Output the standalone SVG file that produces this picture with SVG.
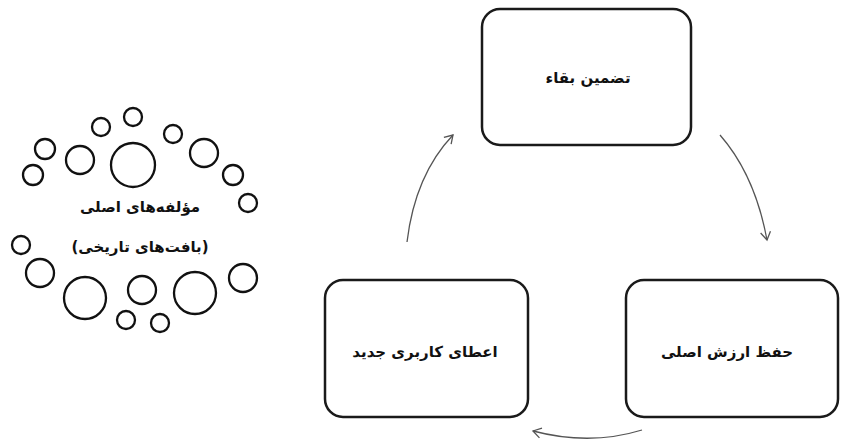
<svg xmlns="http://www.w3.org/2000/svg" width="841" height="441" viewBox="0 0 841 441">
<defs>
<style>
.box{fill:#fff;stroke:#1a1a1a;stroke-width:2.5}
.c{fill:none;stroke:#111;stroke-width:2.3}
.lbl{font-family:"DejaVu Sans","Noto Sans",sans-serif;font-weight:bold;font-size:15px;fill:#111}
.arr{fill:none;stroke:#555;stroke-width:1.3;marker-end:url(#ah)}
</style>
<marker id="ah" markerUnits="userSpaceOnUse" markerWidth="14" markerHeight="14" refX="9" refY="6" orient="auto">
<path d="M1,1 L9,6 L1,11" fill="none" stroke="#555" stroke-width="1.3"/>
</marker>
</defs>
<rect width="841" height="441" fill="#fff"/>
<g id="components">
<circle class="c" cx="133" cy="165" r="22"/>
<circle class="c" cx="80" cy="160" r="14"/>
<circle class="c" cx="45" cy="149" r="10"/>
<circle class="c" cx="33" cy="175" r="10"/>
<circle class="c" cx="101" cy="127" r="9"/>
<circle class="c" cx="133" cy="117" r="9"/>
<circle class="c" cx="173" cy="134" r="9"/>
<circle class="c" cx="204" cy="153" r="14"/>
<circle class="c" cx="233" cy="175" r="10"/>
<circle class="c" cx="248" cy="203" r="9"/>
<circle class="c" cx="21" cy="245" r="9"/>
<circle class="c" cx="40" cy="273" r="14"/>
<circle class="c" cx="85" cy="298" r="21"/>
<circle class="c" cx="126" cy="320" r="9"/>
<circle class="c" cx="142" cy="290" r="14"/>
<circle class="c" cx="160" cy="323" r="9"/>
<circle class="c" cx="195" cy="293" r="21"/>
<circle class="c" cx="243" cy="278" r="14"/>
<text class="lbl" x="140" y="212" text-anchor="middle" direction="rtl">مؤلفه‌های اصلی</text>
<text class="lbl" x="140" y="252" text-anchor="middle" direction="rtl">(بافت‌های تاریخی)</text>
</g>
<g id="node-survival">
<rect class="box" x="482" y="9" width="209" height="136" rx="18"/>
<text class="lbl" x="588" y="83" text-anchor="middle" direction="rtl">تضمین بقاء</text>
</g>
<g id="node-preserve">
<rect class="box" x="626" y="280" width="212" height="137" rx="18"/>
<text class="lbl" x="727" y="357" text-anchor="middle" direction="rtl">حفظ ارزش اصلی</text>
</g>
<g id="node-newuse">
<rect class="box" x="325" y="280" width="203" height="137" rx="18"/>
<text class="lbl" x="425" y="357" text-anchor="middle" direction="rtl">اعطای کاربری جدید</text>
</g>
<g id="connectors">
<path class="arr" d="M720,135 Q755,175 767,240"/>
<path class="arr" d="M642,430 Q590,446 533,431"/>
<path class="arr" d="M407,242 Q415,175 453,135"/>
</g>
</svg>
